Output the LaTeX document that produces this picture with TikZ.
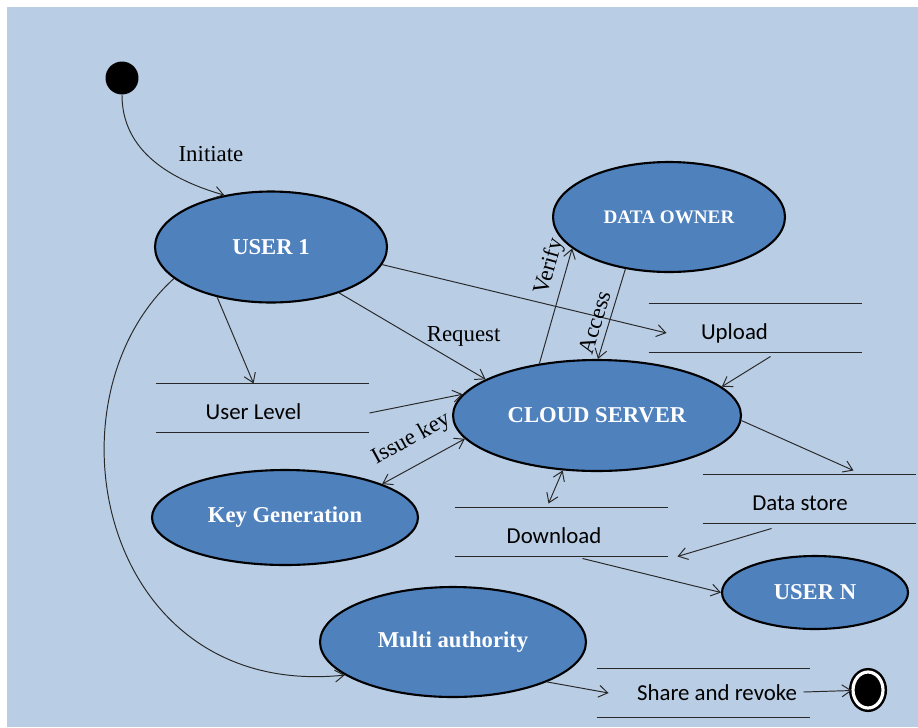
\documentclass[tikz,border=0pt]{standalone}
\usepackage{fontspec}
\setmainfont{Liberation Serif}
\newfontfamily\boxfont{Carlito}
\usepackage{tikz}
\usetikzlibrary{positioning,shapes.geometric,arrows.meta}

\definecolor{bgblue}{RGB}{185,205,229}
\definecolor{nodeblue}{RGB}{79,129,189}
\definecolor{linegray}{RGB}{40,40,40}

\tikzset{
  activity/.style args={#1,#2}{
    ellipse,
    draw=black,
    line width=1.2pt,
    fill=nodeblue,
    text=white,
    inner sep=0pt,
    font=\bfseries\fontsize{12.9}{15}\selectfont,
    minimum width=#1,
    minimum height=#2
  },
  datastore/.style={
    minimum width=4.26cm,
    minimum height=0.96cm,
    inner sep=0pt,
    text height=13pt,
    text depth=0pt,
    font=\boxfont\fontsize{13}{15}\selectfont
  },
  textoff/.style={execute at begin node={\kern#1},execute at end node={\kern-#1}},
  lbl/.style={font=\fontsize{13}{15}\selectfont,text=black},
  startdot/.style={circle,fill=black,minimum size=0.66cm,inner sep=0pt},
  enddot/.style={ellipse,draw=black,line width=1.4pt,double=white,double distance=1.8pt,
    fill=black,minimum width=0.6cm,minimum height=0.72cm,inner sep=0pt}
}

\begin{document}
\begin{tikzpicture}[x=0.02cm,y=-0.02cm,->,>={Straight Barb[length=1.8mm,width=2.4mm]},
  draw=linegray,line width=0.55pt]

  \useasboundingbox (0,0) rectangle (918,727);
  \fill[bgblue] (7,7) rectangle (918,727);

  % states
  \node[startdot] (start) at (122,78) {};
  \node[activity={4.64cm,2.22cm}] (user1) at (271,247) {USER 1};
  \node[activity={4.64cm,2.20cm},font=\bfseries\fontsize{10.9}{13}\selectfont] (owner) at (669,217) {DATA OWNER};
  \node[activity={5.76cm,2.22cm}] (cloud) at (597,415.5) {CLOUD SERVER};
  \node[activity={5.32cm,1.90cm}] (keygen) at (285,517.5) {Key Generation};
  \node[activity={5.32cm,2.20cm}] (multi) at (453,642) {Multi authority};
  \node[activity={3.72cm,1.46cm}] (usern) at (815,592.5) {USER N};
  \node[enddot] (finish) at (868,690) {};

  % stores
  \node[datastore,textoff=-0.18cm] (ulevel) at (262.5,408) {User Level};
  \node[datastore,textoff=-0.42cm] (upload) at (755.5,328) {Upload};
  \node[datastore,textoff=-0.19cm] (dstore) at (809.5,499) {Data store};
  \node[datastore,textoff=-0.15cm] (dload) at (561.5,532) {Download};
  \node[datastore,textoff=0.27cm,text height=8.5pt] (share) at (703.5,693) {Share and revoke};

  \foreach \n in {ulevel,upload,dstore,dload,share}
    \draw[-] (\n.north west) -- (\n.north east) (\n.south west) -- (\n.south east);

  \path (start) edge[out=-90,in=164] node[lbl,pos=0.5,right=11pt,yshift=3.5pt] {Initiate} (user1.132);
  \path (user1.-137) edge (ulevel.110);
  \path (user1.-34) edge node[lbl,pos=0.85,above=8pt] {Request} (cloud.162);
  \path (user1.-9) edge ([shift={(18,5)}]upload.west);
  \path ([shift={(0,5)}]ulevel.east) edge (cloud.171);
  \path (cloud.190) edge[<->] node[lbl,sloped,pos=0.5,above=5pt] {Issue key} (keygen.19);
  \path (cloud.138) edge node[lbl,sloped,pos=0.8,above] {Verify} (owner.198);
  \path (owner.230) edge node[lbl,sloped,pos=0.64,above] {Access} (cloud.89);
  \path ([shift={(15,4)}]upload.south) edge (cloud.13);
  \path (cloud.-2) edge ([shift={(44,-4)}]dstore.north);
  \path (cloud.238) edge[<->] ([shift={(-13,-4)}]dload.north);
  \path ([shift={(-38,5)}]dstore.south) edge ([shift={(9,0)}]dload.south east);
  \path ([shift={(21,2)}]dload.south) edge (usern.west);
  \draw (user1.198) .. controls (40,400) and (100,700) .. (multi.197);
  \path (multi.-23) edge ([shift={(12,0)}]share.west);
  \path ([shift={(-7,-1)}]share.east) edge (finish);
\end{tikzpicture}
\end{document}
